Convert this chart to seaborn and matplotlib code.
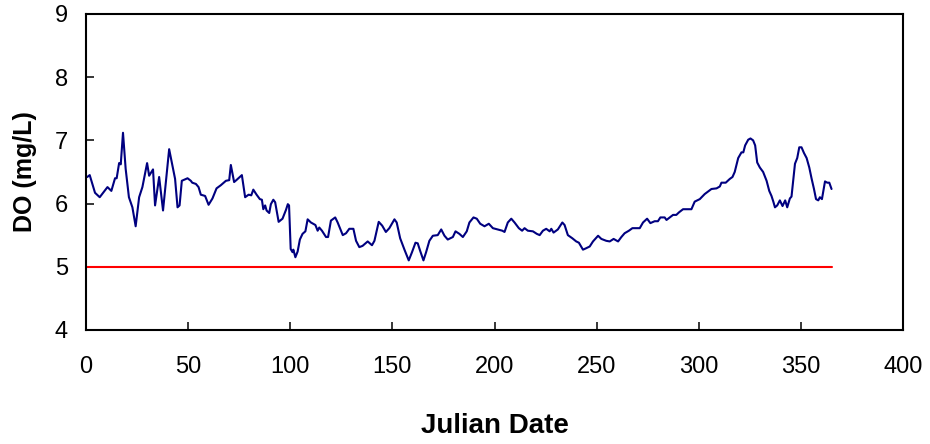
import numpy as np
import pandas as pd
import seaborn as sns
import matplotlib
matplotlib.use('Agg')
import matplotlib.pyplot as plt

# Daily DO readings (day of year, mg/L).
days = [0.6, 1.8, 4.4, 6.7, 10.5, 12.4, 14.2, 15.0, 16.2, 17.0, 18.1, 19.4, 21.0, 22.7, 24.3,
        26.0, 27.6, 29.9, 30.9, 32.8, 33.8, 35.8, 37.7, 40.7, 43.6, 44.8, 45.8, 46.9, 49.7,
        51.3, 52.0, 53.8, 55.1, 56.2, 58.3, 60.0, 61.9, 63.9, 66.0, 68.5, 70.1, 70.9, 72.5,
        73.6, 76.3, 77.9, 79.6, 80.9, 81.9, 83.5, 85.1, 86.1, 86.8, 87.7, 88.4, 89.7, 90.5,
        91.7, 92.6, 94.3, 96.2, 97.9, 98.8, 99.4, 100.2, 101.1, 101.5, 102.5, 103.6, 104.7,
        106.0, 107.4, 108.5, 110.1, 112.3, 113.4, 114.2, 115.5, 117.5, 118.5, 119.9, 122.0,
        123.2, 125.7, 127.3, 128.9, 130.9, 132.2, 133.8, 135.4, 137.9, 140.0, 141.2, 143.3,
        145.0, 146.8, 148.5, 151.0, 152.1, 153.8, 155.9, 158.0, 159.6, 161.3, 162.4, 163.6,
        165.2, 166.5, 168.1, 169.8, 172.2, 173.9, 175.5, 177.1, 179.6, 180.9, 182.8, 184.5,
        186.4, 187.7, 189.7, 191.3, 193.0, 195.1, 197.2, 199.2, 201.6, 203.8, 204.9, 206.5,
        208.2, 209.8, 211.9, 213.5, 214.7, 216.3, 218.8, 220.7, 222.1, 223.7, 225.3, 227.0,
        227.8, 228.9, 231.0, 233.2, 234.3, 235.9, 238.1, 240.0, 241.3, 243.3, 244.7, 246.6,
        248.2, 250.7, 252.3, 254.7, 256.4, 258.3, 260.5, 262.1, 263.7, 265.8, 267.5, 269.4,
        271.1, 272.7, 274.7, 276.3, 278.4, 280.0, 281.2, 283.3, 284.2, 285.8, 287.4, 289.0,
        290.3, 292.3, 296.4, 298.0, 300.5, 302.9, 306.2, 308.7, 310.3, 311.1, 313.2, 315.2,
        316.5, 317.6, 319.3, 320.9, 321.8, 322.7, 324.2, 325.3, 326.6, 327.6, 328.6, 329.9,
        331.5, 333.2, 334.5, 335.6, 336.5, 337.3, 338.4, 339.7, 341.0, 342.3, 343.3, 344.6,
        345.4, 347.1, 348.2, 349.2, 350.3, 351.5, 352.8, 354.1, 355.2, 356.4, 357.4, 358.5,
        359.3, 360.3, 361.8, 362.9, 363.9, 365.0]
do_vals = [6.42, 6.45, 6.17, 6.10, 6.26, 6.20, 6.40, 6.40, 6.64, 6.62, 7.12, 6.55, 6.10, 5.94, 5.64,
           6.10, 6.26, 6.64, 6.44, 6.54, 5.97, 6.42, 5.89, 6.86, 6.39, 5.94, 5.97, 6.36, 6.40,
           6.36, 6.33, 6.31, 6.26, 6.14, 6.12, 5.98, 6.08, 6.24, 6.29, 6.36, 6.37, 6.61, 6.34,
           6.37, 6.45, 6.10, 6.14, 6.13, 6.22, 6.14, 6.07, 6.06, 5.91, 5.97, 5.89, 5.85, 5.99,
           6.06, 6.02, 5.71, 5.76, 5.90, 5.99, 5.97, 5.28, 5.23, 5.27, 5.15, 5.24, 5.43,
           5.52, 5.56, 5.75, 5.70, 5.66, 5.57, 5.62, 5.57, 5.47, 5.47, 5.73, 5.78,
           5.70, 5.50, 5.53, 5.60, 5.60, 5.41, 5.31, 5.33, 5.40, 5.34, 5.41, 5.71,
           5.65, 5.55, 5.61, 5.75, 5.70, 5.45, 5.27, 5.10, 5.23, 5.38, 5.37, 5.25,
           5.10, 5.23, 5.41, 5.49, 5.50, 5.59, 5.49, 5.43, 5.47, 5.56, 5.52, 5.47,
           5.56, 5.70, 5.78, 5.76, 5.68, 5.64, 5.68, 5.61, 5.59, 5.57, 5.55, 5.70,
           5.76, 5.70, 5.61, 5.57, 5.61, 5.57, 5.56, 5.52, 5.50, 5.57, 5.60, 5.56,
           5.60, 5.54, 5.59, 5.70, 5.66, 5.50, 5.45, 5.40, 5.38, 5.27, 5.29, 5.32,
           5.40, 5.49, 5.44, 5.41, 5.40, 5.44, 5.40, 5.47, 5.53, 5.57, 5.61, 5.61,
           5.61, 5.70, 5.76, 5.69, 5.72, 5.72, 5.78, 5.78, 5.74, 5.78, 5.82, 5.82,
           5.86, 5.91, 5.91, 6.03, 6.07, 6.15, 6.23, 6.24, 6.27, 6.33, 6.33, 6.39,
           6.42, 6.50, 6.72, 6.81, 6.81, 6.92, 7.01, 7.03, 7.00, 6.92, 6.65, 6.57,
           6.50, 6.36, 6.20, 6.12, 6.03, 5.94, 5.97, 6.05, 5.96, 6.05, 5.94, 6.08,
           6.11, 6.63, 6.72, 6.89, 6.89, 6.80, 6.72, 6.57, 6.40, 6.23, 6.07, 6.05,
           6.10, 6.07, 6.35, 6.33, 6.33, 6.23]

# DO standard line
std_days = [0, 365]
std_vals = [5.0, 5.0]

x_ticks = [0, 50, 100, 150, 200, 250, 300, 350, 400]
y_ticks = [4, 5, 6, 7, 8, 9]


def main():
    sns.set_style('white')
    plt.rcParams['font.family'] = ['Liberation Sans', 'DejaVu Sans']

    df = pd.DataFrame({'day': days, 'DO': do_vals})
    df_std = pd.DataFrame({'day': std_days, 'DO': std_vals})

    fig, ax = plt.subplots(figsize=(9.3, 4.44), dpi=100)
    fig.subplots_adjust(left=0.0925, right=0.971, top=0.9685, bottom=0.257)

    sns.lineplot(data=df_std, x='day', y='DO', color='#FF0000', linewidth=1.5, ax=ax)
    sns.lineplot(data=df, x='day', y='DO', color='#000080', linewidth=1.5,
                 estimator=None, sort=False, ax=ax)

    ax.set_xlim(0, 400)
    ax.set_ylim(4, 9)
    ax.set_xticks(x_ticks)
    ax.set_yticks(y_ticks)
    ax.tick_params(axis='both', direction='in', length=6, width=1.1, color='black',
                   labelsize=17, labelcolor='black')
    ax.tick_params(axis='x', pad=19)
    ax.tick_params(axis='y', pad=13)
    ax.xaxis.set_ticks_position('bottom')
    ax.yaxis.set_ticks_position('left')
    for s in ax.spines.values():
        s.set_visible(True)
        s.set_color('black')
        s.set_linewidth(1.5)

    ax.set_xlabel('Julian Date', fontsize=20, fontweight='bold', labelpad=25, color='black')
    ax.set_ylabel('DO (mg/L)', fontsize=18, fontweight='bold', labelpad=13, color='black')

    plt.savefig('out.png', dpi=100)
    plt.close()


if __name__ == '__main__':
    main()
